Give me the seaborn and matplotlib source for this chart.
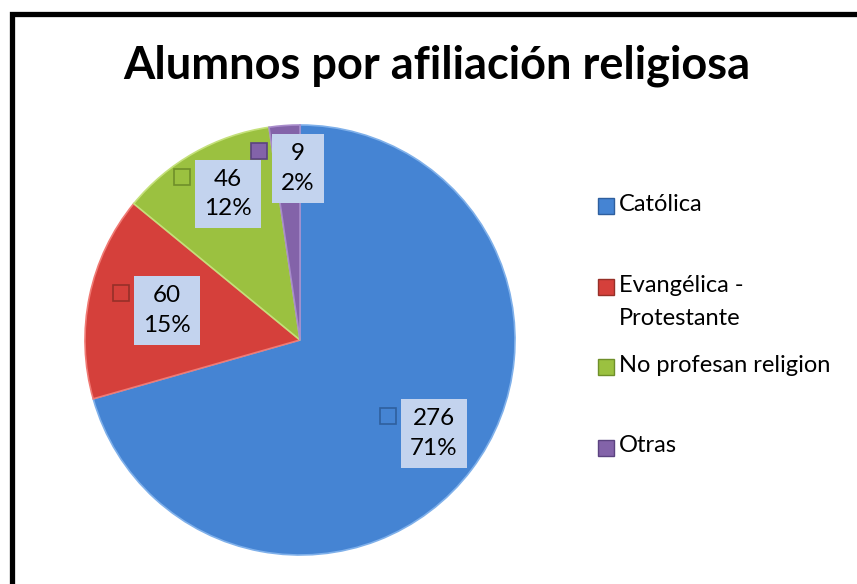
import numpy as np
import matplotlib
matplotlib.use("Agg")
import matplotlib.pyplot as plt
import seaborn as sns
from matplotlib.patches import Rectangle
from matplotlib.lines import Line2D
from matplotlib.transforms import offset_copy

categorias = ["Católica", "Evangélica -\nProtestante", "No profesan religion", "Otras"]
alumnos = [276, 60, 46, 9]
porcentajes = ["71%", "15%", "12%", "2%"]
colores = ["#4584D3", "#D5403B", "#9BC140", "#8363A9"]
bordes = ["#7FB0EA", "#F07A74", "#C4E07A", "#A88CCB"]
oscuros = ["#2F5F9E", "#963028", "#6F8F2A", "#5B4380"]
dist_etiqueta = [0.72, 0.68, 0.78, 0.80]

sns.set_style("white")
plt.rcParams["font.family"] = ["Lato", "DejaVu Sans"]
plt.rcParams["text.color"] = "black"

fig = plt.figure(figsize=(8.57, 5.84), dpi=100)
fig.patch.set_facecolor("white")

# marco negro (recortado a la derecha y abajo)
fig.patches.append(Rectangle((11.5 / 857, -0.2), 1.3, 1.2 - 14 / 584, transform=fig.transFigure,
                             fill=False, edgecolor="black", linewidth=3.8))

fig.text(437 / 857, 1 - 66 / 584, "Alumnos por afiliación religiosa",
         ha="center", va="center", fontsize=32.5, fontweight="bold", color="black")

ax = fig.add_axes([85 / 857, 29 / 584, 430 / 857, 430 / 584])
wedges, _ = ax.pie(alumnos, colors=colores, startangle=90, counterclock=False,
                   wedgeprops=dict(linewidth=1.2))
for w, b in zip(wedges, bordes):
    w.set_edgecolor(b)
ax.set_xlim(-1.0, 1.0)
ax.set_ylim(-1.0, 1.0)
ax.set_aspect("equal")
ax.axis("off")

for w, n, p, c, o, d in zip(wedges, alumnos, porcentajes, colores, oscuros, dist_etiqueta):
    ang = np.deg2rad((w.theta1 + w.theta2) / 2)
    x, y = d * np.cos(ang), d * np.sin(ang)
    t_txt = offset_copy(ax.transData, fig=fig, x=7.5, y=0, units="points")
    ax.text(x, y, f"{n}\n{p}", transform=t_txt, ha="center", va="center",
            fontsize=17.5, linespacing=1.5, color="black",
            bbox=dict(boxstyle="square,pad=0.38", facecolor="#C3D3EE", edgecolor="none"))
    dx = -25.5
    if len(str(n)) < 2:
        dx = -20.5
    t_mk = offset_copy(ax.transData, fig=fig, x=dx, y=12.5, units="points")
    ax.plot([x], [y], transform=t_mk, marker="s", markersize=11, markerfacecolor=c,
            markeredgecolor=o, markeredgewidth=1.2, linestyle="none")

# leyenda
for i, (cat, c, o) in enumerate(zip(categorias, colores, oscuros)):
    ytop = 1 - (206 + i * 80.5) / 584
    fig.add_artist(Line2D([606 / 857], [ytop], transform=fig.transFigure, marker="s",
                          markersize=11, markerfacecolor=c, markeredgecolor=o,
                          markeredgewidth=1.0, linestyle="none"))
    fig.text(619 / 857, ytop + 12 / 584, cat, ha="left", va="top", fontsize=17,
             linespacing=1.75, color="black")

fig.savefig("out.png", dpi=100, facecolor="white")
